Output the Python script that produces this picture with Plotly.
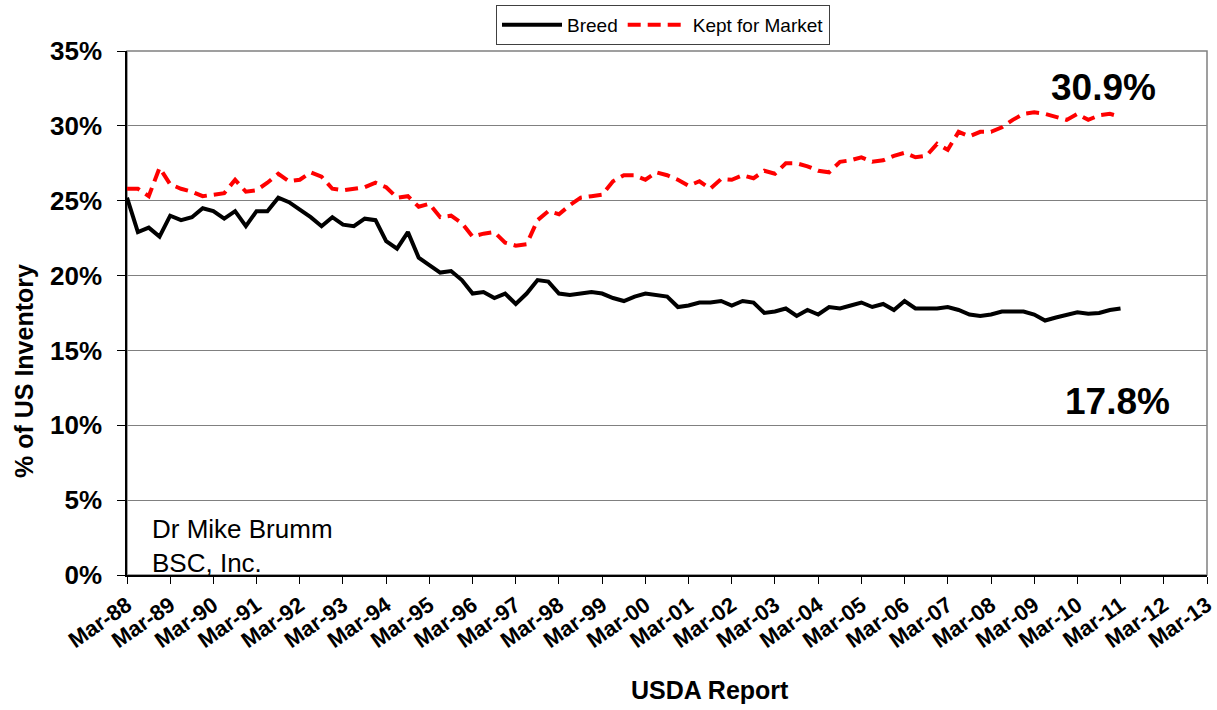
import pandas as pd
import plotly.graph_objects as go

# Quarterly USDA reports, Mar-88 .. Mar-11
report_dates = pd.date_range("1988-03-01", "2011-03-01", freq="3MS")

breed = [25.2, 22.9, 23.2, 22.6, 24.0, 23.7, 23.9, 24.5, 24.3, 23.8,
         24.3, 23.3, 24.3, 24.3, 25.2, 24.9, 24.4, 23.9, 23.3, 23.9,
         23.4, 23.3, 23.8, 23.7, 22.3, 21.8, 22.9, 21.2, 20.7, 20.2,
         20.3, 19.7, 18.8, 18.9, 18.5, 18.8, 18.1, 18.8, 19.7, 19.6,
         18.8, 18.7, 18.8, 18.9, 18.8, 18.5, 18.3, 18.6, 18.8, 18.7,
         18.6, 17.9, 18.0, 18.2, 18.2, 18.3, 18.0, 18.3, 18.2, 17.5,
         17.6, 17.8, 17.3, 17.7, 17.4, 17.9, 17.8, 18.0, 18.2, 17.9,
         18.1, 17.7, 18.3, 17.8, 17.8, 17.8, 17.9, 17.7, 17.4, 17.3,
         17.4, 17.6, 17.6, 17.6, 17.4, 17.0, 17.2, 17.4, 17.55, 17.45,
         17.5, 17.7, 17.8]

market = [25.8, 25.8, 25.3, 27.2, 26.1, 25.8, 25.6, 25.3, 25.4, 25.5,
          26.4, 25.6, 25.7, 26.2, 26.8, 26.3, 26.4, 26.9, 26.6, 25.8,
          25.7, 25.8, 25.9, 26.2, 25.9, 25.2, 25.3, 24.6, 24.8, 23.9,
          24.0, 23.5, 22.6, 22.8, 22.9, 22.2, 22.0, 22.1, 23.7, 24.3,
          24.1, 24.7, 25.2, 25.3, 25.4, 26.3, 26.7, 26.7, 26.4, 26.9,
          26.7, 26.4, 26.0, 26.3, 25.8, 26.45, 26.4, 26.7, 26.5, 27.0,
          26.8, 27.5, 27.5, 27.3, 27.0, 26.9, 27.6, 27.7, 27.9, 27.6,
          27.7, 28.0, 28.2, 27.9, 28.0, 28.8, 28.4, 29.6, 29.3, 29.6,
          29.6, 29.9, 30.4, 30.8, 30.9, 30.8, 30.6, 30.4, 30.8, 30.4,
          30.7, 30.8, 30.6]

series_names = ["Breed", "Kept for Market"]
tick_dates = pd.date_range("1988-03-01", "2013-03-01", freq="12MS")
tick_labels = [d.strftime("Mar-%y") for d in tick_dates]
y_ticks = [0, 5, 10, 15, 20, 25, 30, 35]
y_tick_labels = [f"{v}%" for v in y_ticks]
end_labels = ["30.9%", "17.8%"]
credit = "Dr Mike Brumm<br>BSC, Inc."

FONT = "Arial, Liberation Sans, sans-serif"
L, R, T, B = 127, 1207, 51, 575
PW, PH = R - L, B - T

fig = go.Figure()
fig.add_trace(go.Scatter(x=report_dates, y=breed, name=series_names[0], mode="lines",
                         line=dict(color="black", width=4)))
fig.add_trace(go.Scatter(x=report_dates, y=market, name=series_names[1], mode="lines",
                         line=dict(color="#ff0000", width=4, dash="13px,7px")))

fig.update_layout(
    width=1217, height=710,
    margin=dict(l=L, r=1217 - R, t=T, b=710 - B, autoexpand=False),
    paper_bgcolor="white", plot_bgcolor="white",
    font=dict(family=FONT, color="black"),
    showlegend=True,
    legend=dict(orientation="h", x=(663 - L) / PW, xanchor="center",
                y=(B - 5) / PH, yanchor="top",
                bordercolor="#404040", borderwidth=1, bgcolor="white",
                font=dict(size=19, family=FONT), itemwidth=60,
                traceorder="normal"),
    shapes=[dict(type="rect", xref="paper", yref="paper", x0=0, x1=1, y0=0, y1=1,
                 line=dict(color="#808080", width=1.5), layer="below")],
)

fig.update_xaxes(
    type="date", range=[tick_dates[0], tick_dates[-1]],
    tickvals=tick_dates, ticktext=tick_labels, tickangle=-35,
    tickfont=dict(size=22, family=FONT, weight="bold"),
    showgrid=False, showline=True, linecolor="black", linewidth=1.5,
    ticks="outside", ticklen=7, tickcolor="black", zeroline=False,
    automargin=False,
)
fig.update_yaxes(
    range=[0, 35], tickvals=y_ticks, ticktext=y_tick_labels,
    tickfont=dict(size=26, family=FONT, weight="bold"),
    showgrid=True, gridcolor="#808080", gridwidth=1,
    showline=True, linecolor="black", linewidth=1.5,
    ticks="outside", ticklen=8, tickcolor="black", zeroline=False,
    ticklabelstandoff=10, automargin=False,
)

annotations = [
    dict(text="<b>USDA Report</b>", xref="paper", yref="paper", x=(710 - L) / PW,
         y=(B - 690) / PH, xanchor="center", yanchor="middle", showarrow=False,
         font=dict(size=25, family=FONT)),
    dict(text="<b>% of US Inventory</b>", xref="paper", yref="paper", x=(24 - L) / PW,
         y=(B - 371) / PH, xanchor="center", yanchor="middle", textangle=-90,
         showarrow=False, font=dict(size=25, family=FONT)),
    dict(text=f"<b>{end_labels[0]}</b>", xref="paper", yref="paper", x=(1103 - L) / PW,
         y=(B - 87) / PH, xanchor="center", yanchor="middle", showarrow=False,
         font=dict(size=37, family=FONT)),
    dict(text=f"<b>{end_labels[1]}</b>", xref="paper", yref="paper", x=(1117 - L) / PW,
         y=(B - 401) / PH, xanchor="center", yanchor="middle", showarrow=False,
         font=dict(size=37, family=FONT)),
    dict(text=credit, xref="paper", yref="paper", x=(150 - L) / PW,
         y=(B - 546) / PH, xanchor="left", yanchor="middle", align="left",
         showarrow=False, font=dict(size=26, family=FONT)),
]
fig.update_layout(annotations=annotations)

fig.write_html("out.html", post_script="document.body.style.margin='0';",
               config={"displayModeBar": False})
